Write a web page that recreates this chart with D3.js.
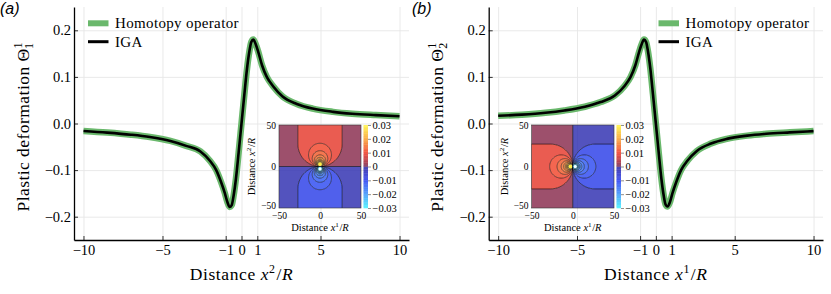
<!DOCTYPE html>
<html>
<head>
<meta charset="utf-8">
<script src="https://cdn.jsdelivr.net/npm/d3@7"></script>
<style>
  body { margin: 0; background: #fff; }
  svg text { font-family: "Liberation Serif", serif; fill: #000; }
</style>
</head>
<body>
<svg id="fig" width="831" height="294"></svg>
<script>
// values

// panel (a): Theta^1_1 along x2
const xA = [-10, -8.5, -7, -5.8, -4.5, -3.5, -2.6, -2.0, -1.6, -1.3, -1.05, -0.9, -0.75, -0.62, -0.5, -0.35, -0.18, 0,
  0.18, 0.35, 0.5, 0.62, 0.75, 0.9, 1.05, 1.3, 1.6, 2.0, 2.6, 3.5, 4.5, 5.8, 7, 8.5, 10];
const homotopyA = [-0.016, -0.0195, -0.024, -0.029, -0.0375, -0.048, -0.060, -0.080, -0.100, -0.125, -0.150, -0.168, -0.179, -0.175, -0.155, -0.118, -0.062, 0,
  0.062, 0.118, 0.155, 0.175, 0.180, 0.170, 0.155, 0.125, 0.100, 0.080, 0.058, 0.042, 0.032, 0.025, 0.021, 0.018, 0.0155];
const igaA = [-0.016, -0.0195, -0.024, -0.029, -0.0375, -0.048, -0.060, -0.080, -0.100, -0.125, -0.150, -0.168, -0.179, -0.175, -0.155, -0.118, -0.062, 0,
  0.062, 0.118, 0.155, 0.175, 0.180, 0.170, 0.155, 0.125, 0.100, 0.080, 0.058, 0.042, 0.032, 0.025, 0.021, 0.018, 0.0155];

// panel (b): Theta^1_2 along x1
const xB = [-10, -8.5, -7, -5.8, -4.5, -3.5, -2.6, -2.0, -1.6, -1.3, -1.05, -0.9, -0.75, -0.62, -0.5, -0.35, -0.18, 0,
  0.18, 0.35, 0.5, 0.62, 0.75, 0.9, 1.05, 1.3, 1.6, 2.0, 2.6, 3.5, 4.5, 5.8, 7, 8.5, 10];
const homotopyB = [0.0165, 0.019, 0.023, 0.028, 0.036, 0.046, 0.060, 0.080, 0.100, 0.125, 0.155, 0.170, 0.180, 0.175, 0.155, 0.118, 0.062, 0,
  -0.062, -0.118, -0.155, -0.174, -0.178, -0.168, -0.150, -0.125, -0.100, -0.080, -0.059, -0.043, -0.033, -0.026, -0.022, -0.019, -0.0163];
const igaB = [0.0165, 0.019, 0.023, 0.028, 0.036, 0.046, 0.060, 0.080, 0.100, 0.125, 0.155, 0.170, 0.180, 0.175, 0.155, 0.118, 0.062, 0,
  -0.062, -0.118, -0.155, -0.174, -0.178, -0.168, -0.150, -0.125, -0.100, -0.080, -0.059, -0.043, -0.033, -0.026, -0.022, -0.019, -0.0163];

const xTicks = [-10, -5, -1, 0, 1, 5, 10];
const yTicks = [-0.2, -0.1, 0, 0.1, 0.2];
const seriesNames = ['Homotopy operator', 'IGA'];

// inset field maps (contour geometry in units of R)
const insetTicks = [-50, 0, 50];
const cbarTicks = [0.03, 0.02, 0.01, 0, -0.01, -0.02, -0.03];
const outerHalfWidth = 27;                 // the U-shaped outer contour
const loopDiameters = [28, 19, 14, 11, 9, 7.7, 6.7, 5.9, 5.3];
const bandValues = [0.0015, 0.009, 0.011, 0.013, 0.015, 0.017, 0.019, 0.021, 0.023, 0.025, 0.027];

// colour map of the insets
const cmapStops = [-0.03, -0.02, -0.01, -0.003, -0.0001, 0.0001, 0.003, 0.01, 0.02, 0.03];
const cmapColors = ['#40f4ff', '#3c96fa', '#2a40f0', '#2a2ab8', '#3030a8', '#702a58', '#a02a40', '#f03a28', '#f8a030', '#fff440'];
const cmap = d3.scaleLinear().domain(cmapStops).range(cmapColors).clamp(true);

const svg = d3.select('#fig');
const green = '#6ab86c';
const plotTop = 7, plotBottom = 240;

const panels = [
  {label: '(a)', labelX: 0, left: 74, right: 409, xs: xA, hom: homotopyA, iga: igaA, sub: '1', sup: '2',
   legendX: 88, inset: {x0: 279, x1: 361, y0: 125, y1: 208, orient: 'a'}},
  {label: '(b)', labelX: 412, left: 488.7, right: 823, xs: xB, hom: homotopyB, iga: igaB, sub: '2', sup: '1',
   legendX: 658.5, inset: {x0: 531.5, x1: 614, y0: 125, y1: 208, orient: 'b'}}
];

function distanceLabel(t, sup, fs) {
  t.append('tspan').text('Distance ');
  t.append('tspan').attr('font-style', 'italic').text('x');
  t.append('tspan').attr('font-size', '0.68em').attr('dy', -fs * 0.38).text(sup);
  t.append('tspan').attr('dy', fs * 0.38).attr('dx', fs * 0.05).text('/');
  t.append('tspan').attr('font-style', 'italic').text('R');
}

function drawInset(g, b, idx) {
  const ix = d3.scaleLinear().domain([-50, 50]).range([b.x0, b.x1]);
  const iy = d3.scaleLinear().domain([-50, 50]).range([b.y1, b.y0]);
  // (u, v): v runs along the dipole axis
  const toXY = b.orient === 'a' ? (u, v) => [u, v] : (u, v) => [-v, u];
  const clipId = 'clip' + idx;
  g.append('clipPath').attr('id', clipId)
    .append('rect').attr('x', b.x0).attr('y', b.y0).attr('width', b.x1 - b.x0).attr('height', b.y1 - b.y0);
  const hm = g.append('g').attr('clip-path', `url(#${clipId})`);

  const arcPts = (cu, cv, r, a0, a1) => d3.range(a0, a1 + 0.1, 6).map(a => [cu + r * Math.cos(a * Math.PI / 180), cv + r * Math.sin(a * Math.PI / 180)]);

  [1, -1].forEach(s => {
    const px = p => { const q = toXY(p[0], s * p[1]); return [ix(q[0]), iy(q[1])]; };
    const poly = pts => d3.line().curve(d3.curveLinearClosed)(pts.map(px));
    // outer band
    hm.append('path').attr('d', poly([[-50, 0], [50, 0], [50, 50], [-50, 50]]))
      .attr('fill', cmap(s * bandValues[0])).attr('fill-opacity', 0.82);
    // U shaped contour
    const u = [[-outerHalfWidth, 60]].concat(arcPts(0, outerHalfWidth, outerHalfWidth, 180, 360)).concat([[outerHalfWidth, 60]]);
    hm.append('path').attr('d', poly(u))
      .attr('fill', '#fff').attr('stroke', 'none');
    hm.append('path').attr('d', poly(u))
      .attr('fill', cmap(s * bandValues[1])).attr('fill-opacity', 0.82)
      .attr('stroke', '#000').attr('stroke-width', 0.55);
    loopDiameters.forEach((d, i) => {
      const c = arcPts(0, d / 2, d / 2, 0, 360);
      hm.append('path').attr('d', poly(c)).attr('fill', '#fff');
      hm.append('path').attr('d', poly(c))
        .attr('fill', cmap(s * bandValues[i + 2])).attr('fill-opacity', 0.82)
        .attr('stroke', '#000').attr('stroke-width', 0.5);
    });
    // dot at the core
    const dot = px([0, 3]);
    hm.append('circle').attr('cx', dot[0]).attr('cy', dot[1]).attr('r', 1.5)
      .attr('fill', s > 0 ? '#fff040' : '#fff');
  });
  // zero contour
  const z0 = toXY(-50, 0), z1 = toXY(50, 0);
  hm.append('line').attr('x1', ix(z0[0])).attr('y1', iy(z0[1])).attr('x2', ix(z1[0])).attr('y2', iy(z1[1]))
    .attr('stroke', '#000').attr('stroke-width', 0.6);
  g.append('rect').attr('x', b.x0).attr('y', b.y0).attr('width', b.x1 - b.x0).attr('height', b.y1 - b.y0)
    .attr('fill', 'none').attr('stroke', '#333').attr('stroke-width', 0.6);

  // colour bar
  const cy = d3.scaleLinear().domain([-0.03, 0.03]).range([b.y1, b.y0]);
  const cells = d3.range(-0.03, 0.03, 0.001);
  g.append('g').selectAll('rect').data(cells).join('rect')
    .attr('x', b.x1 + 2.5).attr('width', 4.5)
    .attr('y', d => cy(d + 0.001)).attr('height', d => cy(d) - cy(d + 0.001) + 0.3)
    .attr('fill', d => cmap(d + 0.0005)).attr('fill-opacity', 0.85);
  g.append('g').attr('transform', `translate(${b.x1 + 7},0)`)
    .call(d3.axisRight(cy).tickValues(cbarTicks).tickSize(3).tickPadding(1.5)
      .tickFormat(d => d === 0 ? '0' : d3.format('.2f')(d)))
    .call(a => {
      a.select('.domain').remove();
      a.selectAll('line').attr('stroke', '#444').attr('stroke-width', 0.6);
      a.attr('font-family', null).attr('font-size', 10.5);
    });

  // inset axes
  g.append('g').attr('transform', `translate(${b.x0},0)`)
    .call(d3.axisLeft(iy).tickValues(insetTicks).tickSize(0).tickPadding(3).tickFormat(d3.format('d')))
    .call(a => {
      a.select('.domain').remove(); a.attr('font-family', null).attr('font-size', 9.5);
      a.selectAll('text').attr('dy', d => d === -50 ? '0.1em' : '0.32em');
    });
  g.append('g').attr('transform', `translate(0,${b.y1})`)
    .call(d3.axisBottom(ix).tickValues(insetTicks).tickSize(0).tickPadding(4.5).tickFormat(d3.format('d')))
    .call(a => { a.select('.domain').remove(); a.attr('font-family', null).attr('font-size', 9.5); });
  const xl = g.append('text').attr('x', (b.x0 + b.x1) / 2).attr('y', b.y1 + 23)
    .attr('text-anchor', 'middle').attr('font-size', 10.5);
  distanceLabel(xl, '1', 10.5);
  const yl = g.append('text').attr('transform', `translate(${b.x0 - 24},${(b.y0 + b.y1) / 2}) rotate(-90)`)
    .attr('text-anchor', 'middle').attr('font-size', 10.5);
  distanceLabel(yl, '2', 10.5);
}

panels.forEach((p, idx) => {
  const g = svg.append('g');
  const x = d3.scaleLinear().domain([-10.6, 10.6]).range([p.left, p.right]);
  const y = d3.scaleLinear().domain([-0.25, 0.25]).range([plotBottom, plotTop]);

  // grid
  g.append('g').attr('transform', `translate(0,${plotBottom})`)
    .call(d3.axisBottom(x).tickValues(xTicks).tickSize(-(plotBottom - plotTop)).tickFormat(''))
    .call(a => { a.select('.domain').remove(); a.selectAll('line').attr('stroke', '#e6e6e6').attr('stroke-width', 0.9); });
  g.append('g').attr('transform', `translate(${p.left},0)`)
    .call(d3.axisLeft(y).tickValues(yTicks).tickSize(-(p.right - p.left)).tickFormat(''))
    .call(a => { a.select('.domain').remove(); a.selectAll('line').attr('stroke', '#e6e6e6').attr('stroke-width', 0.9); });

  drawInset(g, p.inset, idx);

  // curves
  const line = d3.line().x(d => x(d[0])).y(d => y(d[1])).curve(d3.curveMonotoneX);
  g.append('path').attr('d', line(p.xs.map((v, i) => [v, p.hom[i]])))
    .attr('fill', 'none').attr('stroke', green).attr('stroke-width', 6.5).attr('stroke-linejoin', 'round');
  g.append('path').attr('d', line(p.xs.map((v, i) => [v, p.iga[i]])))
    .attr('fill', 'none').attr('stroke', '#000').attr('stroke-width', 2.6).attr('stroke-linejoin', 'round');

  // axes
  g.append('g').attr('transform', `translate(0,${plotBottom})`)
    .call(d3.axisBottom(x).tickValues(xTicks).tickSize(-4).tickSizeOuter(0).tickPadding(4.5).tickFormat(d3.format('d')))
    .call(a => {
      a.attr('font-family', null).attr('font-size', 14.5);
      a.select('.domain').attr('stroke-width', 1.3);
      a.selectAll('line').attr('stroke-width', 0.8);
    });
  g.append('g').attr('transform', `translate(${p.left},0)`)
    .call(d3.axisLeft(y).tickValues(yTicks).tickSize(-4).tickSizeOuter(0).tickPadding(3).tickFormat(d3.format('.1f')))
    .call(a => {
      a.attr('font-family', null).attr('font-size', 14.5);
      a.select('.domain').attr('stroke-width', 1.3);
      a.selectAll('line').attr('stroke-width', 0.8);
    });

  // axis titles
  const xt = g.append('text').attr('x', (p.left + p.right) / 2).attr('y', 280)
    .attr('text-anchor', 'middle').attr('font-size', 17.5).attr('letter-spacing', 0.6);
  distanceLabel(xt, p.sup, 17.5);
  const yt = g.append('text').attr('transform', `translate(${p.left - 45.5},127) rotate(-90)`)
    .attr('text-anchor', 'middle').attr('font-size', 17.5).attr('letter-spacing', 0.45);
  yt.append('tspan').text('Plastic deformation Θ');
  yt.append('tspan').attr('font-size', 12).attr('dy', -7).text('1');
  yt.append('tspan').attr('font-size', 12).attr('dx', -6.5).attr('dy', 11).text(p.sub);

  // legend
  [green, '#000'].forEach((c, i) => {
    const ly = 23.3 + i * 18.4;
    g.append('line').attr('x1', p.legendX).attr('x2', p.legendX + 20.5).attr('y1', ly).attr('y2', ly)
      .attr('stroke', c).attr('stroke-width', i === 0 ? 6 : 3);
    g.append('text').attr('x', p.legendX + 27).attr('y', ly + 5).attr('font-size', 15).attr('letter-spacing', 0.35)
      .text(seriesNames[i]);
  });

  // panel tag
  g.append('text').attr('x', p.labelX).attr('y', 14).attr('font-size', 16)
    .style('font-family', '"Liberation Sans", sans-serif').attr('font-style', 'italic').text(p.label);
});
</script>
</body>
</html>
